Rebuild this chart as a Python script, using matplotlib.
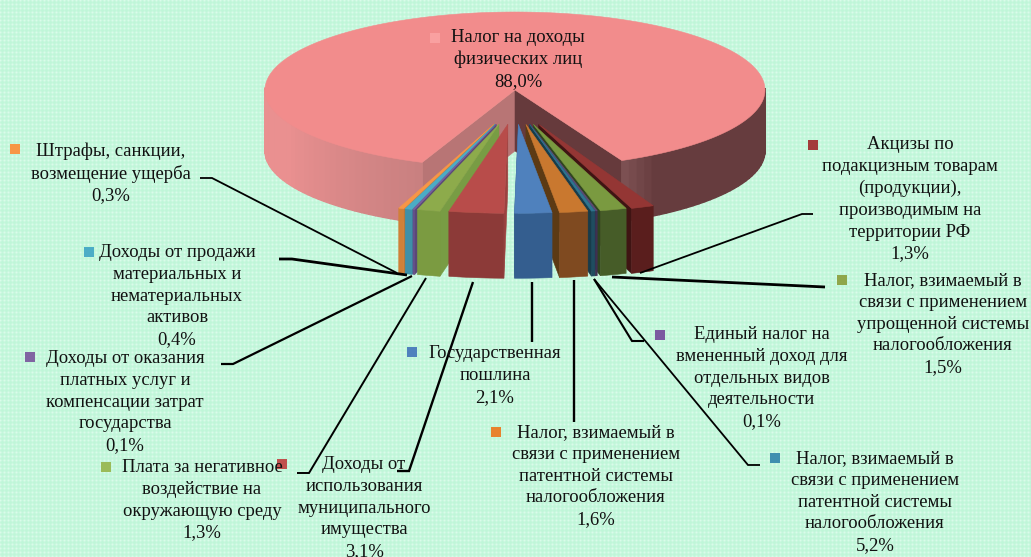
"""Exploded 3D pie of budget revenue shares, drawn as projected polygons."""
import numpy as np
import matplotlib
matplotlib.use("Agg")
import matplotlib.pyplot as plt
from matplotlib.patches import Polygon, Rectangle

plt.rcParams["font.family"] = ["Liberation Serif", "DejaVu Serif"]

# clockwise from the big slice; the 0,2 sliver is printed as 5,2% in the source
slice_names = [
    "Налог на доходы\nфизических лиц",
    "Акцизы по\nподакцизным товарам\n(продукции),\nпроизводимым на\nтерритории РФ",
    "Налог, взимаемый в\nсвязи с применением\nупрощенной системы\nналогообложения",
    "Единый налог на\nвмененный доход для\nотдельных видов\nдеятельности",
    "Налог, взимаемый в\nсвязи с применением\nпатентной системы\nналогообложения",
    "Налог, взимаемый в\nсвязи с применением\nпатентной системы\nналогообложения",
    "Государственная\nпошлина",
    "Доходы от\nиспользования\nмуниципального\nимущества",
    "Плата за негативное\nвоздействие на\nокружающую среду",
    "Доходы от оказания\nплатных услуг и\nкомпенсации затрат\nгосударства",
    "Доходы от продажи\nматериальных и\nнематериальных\nактивов",
    "Штрафы, санкции,\nвозмещение ущерба",
]
slice_values = [88.0, 1.3, 1.5, 0.1, 0.2, 1.6, 2.1, 3.1, 1.3, 0.1, 0.4, 0.3]
value_labels = ["88,0%", "1,3%", "1,5%", "0,1%", "5,2%", "1,6%", "2,1%", "3,1%", "1,3%", "0,1%", "0,4%", "0,3%"]

top_colors = ["#F28C8C", "#943634", "#7A9A40", "#5F497A", "#2E7590", "#C9782F", "#4F81BD", "#B84C4A", "#8DAB4B", "#7B5F9E", "#4BACC6", "#F79646"]
front_colors = ["#C97E7E", "#5A1E1D", "#465C28", "#3F3052", "#1F4D60", "#7F4A20", "#345E8F", "#8C3A38", "#7B9B41", "#66508A", "#3E90A8", "#D08038"]
side_colors = ["#B87575", "#3F1413", "#2F4520", "#30243F", "#183C4A", "#5C3A14", "#2C4F78", "#9C4240", "#789C44", "#5A4878", "#37809A", "#C07530"]
key_colors = ["#F9A0A0", "#A33B3A", "#8FA64A", "#7B5AA0", "#3F8FAF", "#E8822E", "#4F81BD", "#C0504D", "#9BBB59", "#8064A2", "#4BACC6", "#F79646"]

# label layout in image pixels: text centre, first line y, key square left/top
label_x = [518, 910, 943, 762, 875, 596, 495, 364, 202, 125, 177, 111]
label_y = [38, 145, 281, 335, 459, 433, 354, 465, 468, 359, 253, 151]
key_x = [430, 808, 837, 655, 770, 491, 407, 277, 101, 25, 84, 10]
key_y = [33, 140, 275, 330, 453, 427, 347, 459, 462, 352, 247, 144]
# leader polylines, label end first
leaders = [
    None,
    [(813, 214), (802, 214), (640, 273)],
    [(825, 287), (612, 277)],
    [(644, 341), (632, 341), (594, 279)],
    [(760, 465), (748, 465), (594, 279)],
    [(574, 422), (574, 280)],
    [(532, 342), (532, 282)],
    [(397, 471), (409, 471), (473, 282)],
    [(297, 473), (309, 473), (426, 278)],
    [(221, 364), (233, 364), (412, 276)],
    [(279, 259), (292, 259), (407, 275)],
    [(200, 178), (212, 178), (397, 273)],
]
leader_widths = [0, 1.3, 2.0, 1.5, 1.3, 1.7, 1.7, 1.7, 1.4, 1.6, 2.0, 1.3]

CX, CY, RX, RY = 515, 90, 250, 78
DEPTH, SLICE_DEPTH = 61, 65
GAP_RIGHT = 23.7      # right end of the gap, degrees from straight down
R_SLICE = 1.14
EX, EY = 0.26, 0.44   # explosion of small slices
FS, LS = 13.4, 1.37

def pt(theta, r=1.0, ox=0.0, oy=0.0):
    t = np.radians(theta)
    return CX + RX*(ox + r*np.sin(t)), CY + RY*(oy + r*np.cos(t))

def arc(a, b, **kw):
    return [pt(t, **kw) for t in np.linspace(a, b, max(2, int(abs(b - a)) + 2))]

def shift(pts, d):
    return [(x, y + d) for x, y in pts]

def mix(c1, c2, f):
    a = np.array(matplotlib.colors.to_rgb(c1)); b = np.array(matplotlib.colors.to_rgb(c2))
    return tuple(a + (b - a)*f)

fig = plt.figure(figsize=(10.31, 5.57), dpi=100)
ax = fig.add_axes([0, 0, 1, 1])
ax.set_xlim(0, 1031); ax.set_ylim(557, 0); ax.axis("off")

# mint lattice background
yy, xx = np.mgrid[0:557, 0:1031]
tex = np.cos(2*np.pi*(xx + yy)/8.0)*np.cos(2*np.pi*(xx - yy)/8.0)
base = np.array(matplotlib.colors.to_rgb("#BFF6D8")); light = np.array(matplotlib.colors.to_rgb("#DAFBEA"))
bg = base + (light - base)*((tex[..., None] + 1)/2)**2
ax.imshow(bg, extent=(0, 1031, 557, 0), interpolation="nearest", aspect="auto", zorder=0)

def poly(pts, color, z, lw=0.4):
    ax.add_patch(Polygon(pts, closed=True, facecolor=color, edgecolor=color, lw=lw, zorder=z))

# big slice
sweep = slice_values[0]/sum(slice_values)*360
right_end = GAP_RIGHT + 1.6
left_end = GAP_RIGHT - (360 - sweep) - 2.3
c = pt(0, r=0)
poly([c, pt(left_end), shift([pt(left_end)], DEPTH)[0], (c[0], c[1] + DEPTH)], side_colors[0], 2)
poly([c, pt(right_end), shift([pt(right_end)], DEPTH)[0], (c[0], c[1] + DEPTH)], "#663A3C", 2)
# outer wall strips, front half only
for a, b in zip(np.arange(left_end, -90, -2.0), np.arange(left_end - 2, -92, -2.0)):
    f = (left_end - a)/(left_end + 90)
    top = arc(a, b)
    poly(top + shift(top, DEPTH)[::-1], mix("#C98080", "#EA9090", min(f*1.6, 1)), 3, lw=1.0)
for a, b in zip(np.arange(right_end, 90, 2.0), np.arange(right_end + 2, 92, 2.0)):
    f = (a - right_end)/(90 - right_end)
    top = arc(a, b)
    poly(top + shift(top, DEPTH)[::-1], mix("#7C5052", "#663C3E", min(f*8, 1)), 3, lw=1.0)
poly([c] + arc(right_end, 360 + left_end), top_colors[0], 4)

# small slices, from the gap edges in towards the middle
edges = [GAP_RIGHT]
for v in slice_values[1:]:
    edges.append(edges[-1] - v/sum(slice_values)*360)
order = sorted(range(1, len(slice_values)), key=lambda i: -abs((edges[i - 1] + edges[i])/2))
for i in order:
    hi, lo = edges[i - 1], edges[i]
    mid = (hi + lo)/2
    ox, oy = EX*np.sin(np.radians(mid)), EY
    kw = dict(r=R_SLICE, ox=ox, oy=oy)
    apex = pt(mid, r=0, ox=ox, oy=oy)
    outer = arc(lo, hi, **kw)
    z = 5 + (30 - abs(mid))/10
    # the wall facing the middle is the visible one
    e = hi if mid < 0 else lo
    ep = pt(e, **kw)
    poly([apex, ep, (ep[0], ep[1] + SLICE_DEPTH), (apex[0], apex[1] + SLICE_DEPTH)], side_colors[i], z)
    poly(outer + shift(outer, SLICE_DEPTH)[::-1], front_colors[i], z + 0.01)
    poly([apex] + outer, top_colors[i], z + 0.02)

# leaders, keys, labels
for line, w in zip(leaders, leader_widths):
    if line is None:
        continue
    ax.plot(*zip(*line), color="black", lw=w, solid_capstyle="butt", solid_joinstyle="miter", zorder=8)
for i, name in enumerate(slice_names):
    ax.add_patch(Rectangle((key_x[i], key_y[i]), 10, 10, facecolor=key_colors[i], edgecolor="none", zorder=9))
    ax.text(label_x[i], label_y[i] - 9, name + "\n" + value_labels[i], ha="center", va="top",
            fontsize=FS, linespacing=LS, color="#111111", zorder=10)

fig.savefig("out.png", dpi=100)
